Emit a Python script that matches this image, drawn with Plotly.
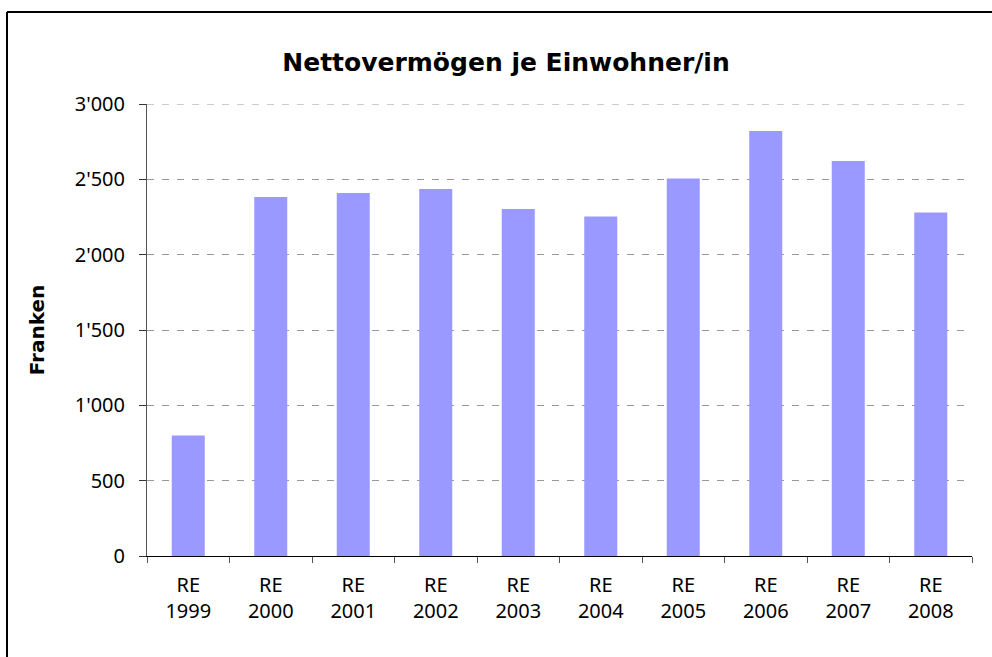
import plotly.graph_objects as go

categories = ["RE<br>1999", "RE<br>2000", "RE<br>2001", "RE<br>2002", "RE<br>2003",
              "RE<br>2004", "RE<br>2005", "RE<br>2006", "RE<br>2007", "RE<br>2008"]
values = [800, 2383, 2409, 2436, 2303, 2254, 2505, 2820, 2621, 2280]
y_ticks = [0, 500, 1000, 1500, 2000, 2500, 3000]
y_tick_labels = ["0", "500", "1'000", "1'500", "2'000", "2'500", "3'000"]

FONT = "Noto Sans"
TFONT = "DejaVu Sans"

fig = go.Figure(go.Bar(
    x=categories, y=values,
    marker=dict(color="#9999FF", line=dict(width=0)),
    width=0.4,
))

W, H = 992, 657
ml, mr, mt, mb = 147, 20, 104, 101
pw = W - ml - mr
ph = H - mt - mb

fig.update_layout(
    width=W, height=H,
    margin=dict(l=ml, r=mr, t=mt, b=mb, pad=0),
    paper_bgcolor="white", plot_bgcolor="white",
    showlegend=False,
    title=dict(text="<b>Nettovermögen je Einwohner/in</b>",
               font=dict(family=TFONT, size=25, color="black"),
               x=506 / W, xanchor="center", y=1 - 62 / H, yanchor="middle"),
    font=dict(family=FONT, size=20, color="black"),
    bargap=0.6,
)

fig.update_xaxes(
    type="category",
    showline=True, linecolor="black", linewidth=1,
    ticks="outside", tickson="boundaries", ticklen=6, tickcolor="#555555",
    showgrid=False,
    tickfont=dict(family=FONT, size=20, color="black"),
    ticklabelstandoff=11,
)
fig.update_yaxes(
    range=[0, 3000],
    tickvals=y_ticks, ticktext=y_tick_labels,
    showline=True, linecolor="#555555", linewidth=1,
    ticks="outside", ticklen=7, tickcolor="#333333",
    showgrid=True, gridcolor="#999999", gridwidth=1, griddash="7px,8px",
    zeroline=False,
    tickfont=dict(family=FONT, size=20, color="black"),
    ticklabelstandoff=10,
    title=dict(text="<b>Franken</b>", font=dict(family=TFONT, size=20, color="black"), standoff=24),
)

# top gridline (plotly skips the gridline on the range edge)
fig.add_shape(type="line", xref="paper", yref="y", x0=0, x1=1,
              y0=y_ticks[-1], y1=y_ticks[-1],
              line=dict(color="#999999", width=1, dash="7px,8px"), layer="below")

# outer chart frame: only its left and top edges fall inside the picture
fx0 = (7 - ml) / pw
fy1 = (H - mb - 12) / ph
fig.add_shape(type="line", xref="paper", yref="paper",
              x0=fx0, x1=fx0, y0=fy1, y1=-mb / ph,
              line=dict(color="black", width=2), layer="above")
fig.add_shape(type="line", xref="paper", yref="paper",
              x0=fx0, x1=(W - ml) / pw, y0=fy1, y1=fy1,
              line=dict(color="black", width=2), layer="above")

fig.write_html("out.html", config={"displayModeBar": False},
               post_script="document.body.style.margin='0px';document.body.style.overflow='hidden';"
                           "document.documentElement.style.overflow='hidden';")
